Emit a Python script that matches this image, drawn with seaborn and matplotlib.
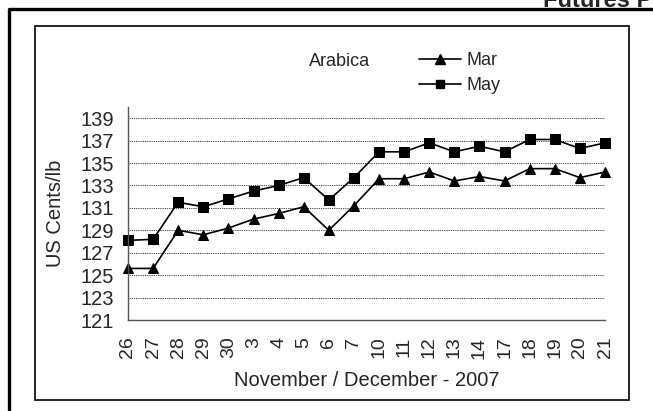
import pandas as pd
import seaborn as sns
import matplotlib.pyplot as plt
from matplotlib.patches import Rectangle
from matplotlib.lines import Line2D

# Arabica futures, US cents/lb
days = ["26", "27", "28", "29", "30", "3", "4", "5", "6", "7",
        "10", "11", "12", "13", "14", "17", "18", "19", "20", "21"]
mar = [125.6, 125.6, 129.0, 128.6, 129.2, 130.0, 130.5, 131.1, 129.0, 131.2,
       133.6, 133.6, 134.2, 133.4, 133.8, 133.4, 134.5, 134.5, 133.7, 134.2]
may = [128.1, 128.2, 131.5, 131.1, 131.8, 132.5, 133.0, 133.7, 131.7, 133.7,
       136.0, 136.0, 136.8, 136.0, 136.5, 136.0, 137.1, 137.1, 136.3, 136.8]
yticks = list(range(121, 141, 2))

df = pd.DataFrame({
    "pos": list(range(len(days))) * 2,
    "price": mar + may,
    "contract": ["Mar"] * len(days) + ["May"] * len(days),
})

sns.set_style("white")
plt.rcParams["font.family"] = ["Liberation Sans", "DejaVu Sans"]

fig = plt.figure(figsize=(6.53, 4.11), dpi=100)
ax = fig.add_axes([0.196, 0.2214, 0.7305, 0.5183])

sns.lineplot(data=df, x="pos", y="price", style="contract",
             markers={"Mar": "^", "May": "s"}, dashes=False,
             color="black", linewidth=1.2, markersize=7,
             markeredgecolor="black", ax=ax, clip_on=False)

ax.set_xlim(0, len(days) - 1)
ax.set_ylim(121, 140)
ax.set_xticks(range(len(days)))
ax.set_xticklabels(days, rotation=90, va="top", fontsize=14)
ax.set_yticks(yticks)
ax.set_yticklabels([str(t) for t in yticks], fontsize=14.5)
ax.tick_params(axis="y", direction="inout", length=6.5, width=0.8, color="#555555", pad=7)
ax.tick_params(axis="x", direction="out", length=4, width=0.8, color="#555555", pad=8)
for t in yticks[1:]:
    ax.axhline(t, color="black", linestyle=(0, (1, 1.2)), linewidth=0.6, zorder=0)

for side in ["top", "right"]:
    ax.spines[side].set_visible(False)
for side in ["left", "bottom"]:
    ax.spines[side].set_color("#555555")
    ax.spines[side].set_linewidth(1.0)

ax.set_xlabel("November / December - 2007", fontsize=14.5, labelpad=9)
ax.set_ylabel("US Cents/lb", fontsize=14.5, labelpad=11)

handles = [Line2D([], [], color="black", marker="^", markersize=7, linewidth=1.2),
           Line2D([], [], color="black", marker="s", markersize=6, linewidth=1.2)]
ax.legend(handles, ["Mar", "May"], loc="upper left", frameon=False,
          bbox_to_anchor=(403 / 653, 1 - 36 / 411), bbox_transform=fig.transFigure,
          fontsize=13, handlelength=2.3, handletextpad=0.3, labelspacing=0.45)
fig.text(309 / 653, 1 - 62 / 411, "Arabica", fontsize=13, va="center", ha="left")

# chart frames
fig.add_artist(Rectangle((35 / 653, 1 - 400 / 411), 594 / 653, 374 / 411,
                         transform=fig.transFigure, fill=False,
                         edgecolor="black", linewidth=1.2))
fig.add_artist(Line2D([9 / 653, 9 / 653, 1.0], [0.0, 1 - 9 / 411, 1 - 9 / 411],
                      transform=fig.transFigure, color="black", linewidth=2.4))
fig.text(543 / 653, 1 - 7 / 411, "Futures Prices", fontsize=17, fontweight="bold",
         ha="left", va="baseline")

fig.savefig("out.png", dpi=100)
